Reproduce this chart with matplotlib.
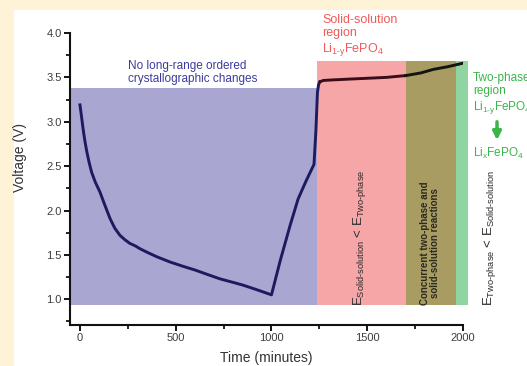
import matplotlib.pyplot as plt
from matplotlib.patches import Rectangle

plt.rcParams['font.family'] = ['Liberation Sans', 'DejaVu Sans']
plt.rcParams['mathtext.fontset'] = 'custom'
plt.rcParams['mathtext.rm'] = 'Liberation Sans'
plt.rcParams['mathtext.it'] = 'Liberation Sans:italic'

# voltage profile
time_min = [0, 8, 17, 26, 36, 48, 61, 80, 104, 130, 157, 182, 209, 235, 260, 290,
            313, 350, 400, 470, 540, 600, 665, 731, 800, 850, 920, 1000,
            1045, 1097, 1139, 1180, 1222, 1232, 1240, 1246, 1253, 1270, 1306, 1400,
            1500, 1600, 1700, 1780, 1845, 1920, 2000]
voltage = [3.19, 3.06, 2.91, 2.78, 2.66, 2.54, 2.43, 2.32, 2.21, 2.06, 1.91, 1.80,
           1.72, 1.67, 1.63, 1.60, 1.57, 1.53, 1.48, 1.42, 1.37, 1.33, 1.28, 1.23,
           1.19, 1.16, 1.11, 1.05, 1.43, 1.83, 2.13, 2.33, 2.52, 2.90, 3.33, 3.42,
           3.45, 3.465, 3.47, 3.48, 3.49, 3.50, 3.52, 3.55, 3.59, 3.62, 3.66]

# shaded regions
region_t0 = [-52, 1240, 1700, 1962]
region_t1 = [1240, 1700, 1962, 2027]
region_v0 = [0.94, 0.94, 0.94, 0.94]
region_v1 = [3.38, 3.69, 3.69, 3.69]
region_col = ['#aaa6d2', '#f6a6a7', '#a99c62', '#8fd4a1']

W, H = 527, 366
fig = plt.figure(figsize=(W / 100, H / 100), dpi=100)
fig.patch.set_facecolor('#fef3d7')
fig.patches.append(Rectangle((14 / W, 0), 1, 1 - 10 / H, transform=fig.transFigure,
                             facecolor='white', edgecolor='none', zorder=-1))


def px(x, y):
    return x / W, 1 - y / H


ax = fig.add_axes([70 / W, 1 - 325 / H, (463 - 70) / W, (325 - 33) / H])
ax.set_facecolor('none')

for t0, t1, v0, v1, c in zip(region_t0, region_t1, region_v0, region_v1, region_col):
    ax.fill_between([t0, t1], v0, v1, color=c, lw=0, clip_on=False, zorder=1)

# curve: navy during discharge/charge, darker in the plateau
split1 = time_min.index(1253)
split2 = time_min.index(1700)
ax.plot(time_min[:split1 + 1], voltage[:split1 + 1], color='#1d1a5e', lw=2.1, zorder=3)
ax.plot(time_min[split1:split2 + 1], voltage[split1:split2 + 1], color='#3a0d1a', lw=2.1,
        zorder=3)
ax.plot(time_min[split2:], voltage[split2:], color='#141410', lw=2.1, zorder=3)

ax.set_xlim(-52, 2000)
ax.set_ylim(0.71, 4.0)
ax.set_xticks([0, 500, 1000, 1500, 2000])
ax.set_xticks([250, 750, 1250, 1750], minor=True)
ax.set_yticks([1.0, 1.5, 2.0, 2.5, 3.0, 3.5, 4.0])
ax.set_yticks([0.75, 1.25, 1.75, 2.25, 2.75, 3.25, 3.75], minor=True)
ax.set_yticklabels(['1.0', '1.5', '2.0', '2.5', '3.0', '3.5', '4.0'])
for s in ['top', 'right']:
    ax.spines[s].set_visible(False)
for s in ['left', 'bottom']:
    ax.spines[s].set_linewidth(1.5)
    ax.spines[s].set_color('#111111')
ax.tick_params(which='major', direction='out', length=4, width=1.3, labelsize=8,
               labelcolor='#3c3c3c', pad=2)
ax.tick_params(which='minor', direction='out', length=3, width=1.2)

fig.text(*px(20, 158), 'Voltage (V)', rotation=90, ha='center', va='center',
         fontsize=10, color='#333333')
fig.text(*px(266, 358), 'Time (minutes)', ha='center', va='center',
         fontsize=10, color='#333333')

li_1y = r'Li$_{\text{1-y}}$FePO$_{\text{4}}$'
li_x = r'Li$_{\text{x}}$FePO$_{\text{4}}$'

fig.text(*px(128, 82), 'No long-range ordered\ncrystallographic changes', ha='left',
         va='baseline', fontsize=8.5, color='#3b3b9e', linespacing=1.15)
fig.text(*px(322, 52), 'Solid-solution\nregion\n' + li_1y,
         ha='left', va='baseline', fontsize=9, color='#f05a5a', linespacing=1.15)
fig.text(*px(473, 110), 'Two-phase\nregion\n' + li_1y,
         ha='left', va='baseline', fontsize=8.5, color='#3ab54a', linespacing=1.15)
fig.text(*px(473, 157), li_x,
         ha='left', va='baseline', fontsize=8.5, color='#3ab54a')
ax.annotate('', xy=(497, H - 143), xytext=(497, H - 119), xycoords='figure pixels',
            textcoords='figure pixels',
            arrowprops=dict(arrowstyle='-|>', color='#3ab54a', lw=2.5, mutation_scale=12))

fig.text(*px(360, 238), r'E$_{\text{Solid-solution}}$ < E$_{\text{Two-phase}}$',
         rotation=90, ha='center', va='center', fontsize=9.5, color='#2a2a2a')
fig.text(*px(490, 238), r'E$_{\text{Two-phase}}$ < E$_{\text{Solid-solution}}$',
         rotation=90, ha='center', va='center', fontsize=9.5, color='#2a2a2a')
fig.text(*px(430, 243), 'Concurrent two-phase and\nsolid-solution reactions',
         rotation=90, ha='center', va='center', fontsize=7, fontweight='bold',
         color='#2a2a20', linespacing=1.0)

fig.savefig('out.png', dpi=100)
